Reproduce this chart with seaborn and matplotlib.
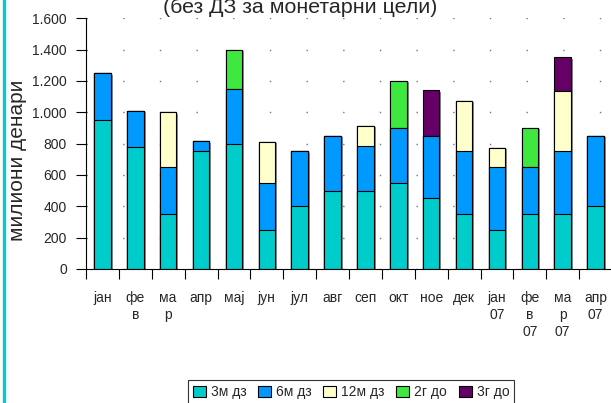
import pandas as pd
import matplotlib
matplotlib.use("Agg")
import matplotlib.pyplot as plt
import matplotlib.patheffects as pe
from matplotlib.patches import Patch
from matplotlib.lines import Line2D
from matplotlib.ticker import FuncFormatter, FixedLocator
import seaborn as sns

# месеци (категории на x-оската)
months = ["јан", "фе\nв", "ма\nр", "апр", "мај", "јун", "јул", "авг", "сеп",
          "окт", "ное", "дек", "јан\n07", "фе\nв\n07", "ма\nр\n07", "апр\n07"]

# вредности по рочност (милиони денари)
m3_dz = [950, 780, 350, 750, 800, 250, 400, 500, 500, 550, 450, 350, 250, 350, 350, 400]
m6_dz = [300, 230, 300, 65, 350, 300, 350, 350, 285, 350, 400, 400, 400, 300, 400, 450]
m12_dz = [0, 0, 350, 0, 0, 260, 0, 0, 130, 0, 0, 325, 125, 0, 385, 0]
g2_do = [0, 0, 0, 0, 250, 0, 0, 0, 0, 300, 0, 0, 0, 250, 0, 0]
g3_do = [0, 0, 0, 0, 0, 0, 0, 0, 0, 0, 290, 0, 0, 0, 215, 0]

series = ["3м дз", "6м дз", "12м дз", "2г до", "3г до"]
colors = ["#00CCCC", "#0099FF", "#FFFFCC", "#3EE83E", "#660066"]

df = pd.DataFrame({"month": months, "3м дз": m3_dz, "6м дз": m6_dz,
                   "12м дз": m12_dz, "2г до": g2_do, "3г до": g3_do})
# cumulative sums for stacking
cum = df[series].cumsum(axis=1)
cum["month"] = df["month"]

sns.set_theme(style="white")
plt.rcParams["font.family"] = ["Liberation Sans", "DejaVu Sans"]

fig = plt.figure(figsize=(6.11, 4.03), dpi=100)
ax = fig.add_axes([86 / 611, 1 - 269 / 403, 526 / 611, (269 - 18.3) / 403])

shadow = [pe.SimplePatchShadow(offset=(1.5, -1), shadow_rgbFace="#888888", alpha=1), pe.Normal()]

# draw tallest cumulative layer first, then cover with lower ones
for name, col in reversed(list(zip(series, colors))):
    sns.barplot(data=cum, x="month", y=name, order=months, color=col,
                width=0.5, edgecolor="black", linewidth=0.8, saturation=1, ax=ax)

for p in ax.patches:
    p.set_path_effects(shadow)

ax.set_ylim(0, 1600)
ax.set_xlim(-0.5, len(months) - 0.5)
ax.set_yticks(range(0, 1601, 200))
ax.yaxis.set_major_formatter(FuncFormatter(lambda v, _: f"{int(v):,}".replace(",", ".")))
ax.tick_params(axis="y", length=7.2, width=0.8, color="black", labelsize=10, pad=6.5, left=True)
ax.tick_params(axis="x", which="major", length=0, labelsize=10, pad=16)
ax.xaxis.set_minor_locator(FixedLocator([i - 0.5 for i in range(len(months) + 1)]))
ax.tick_params(axis="x", which="minor", length=7.5, width=0.8, color="black", bottom=True)
for lbl in ax.get_xticklabels():
    lbl.set_linespacing(1.25)
    lbl.set_verticalalignment("top")

ax.set_xlabel("")
ax.set_ylabel("")
sns.despine(ax=ax)
for s in ["left", "bottom"]:
    ax.spines[s].set_color("black")
    ax.spines[s].set_linewidth(0.8)

ax.set_axisbelow(True)
ax.yaxis.grid(True, linestyle=(0, (1, 25.4)), color="#777777", linewidth=1.0)
ax.xaxis.grid(False)

fig.text(18 / 611, 1 - 160 / 403, "милиони денари", rotation=90, fontsize=15,
         ha="center", va="center")
fig.text(300 / 611, 1 - 13 / 403, "(без ДЗ за монетарни цели)", fontsize=15.4,
         ha="center", va="baseline")

fig.add_artist(Line2D([3.5 / 611, 3.5 / 611], [0, 1], color="#00CCCC", linewidth=2.4,
                      transform=fig.transFigure))

handles = [Patch(facecolor=c, edgecolor="black", linewidth=0.8) for c in colors]
leg = fig.legend(handles, series, loc="upper center", bbox_to_anchor=(351 / 611, 1 - 380 / 403),
                 ncol=5, fontsize=10, frameon=True, fancybox=False, handlelength=0.93,
                 handleheight=0.85, handletextpad=0.36, columnspacing=0.84, borderpad=0.35,
                 borderaxespad=0)
leg.get_frame().set_edgecolor("black")
leg.get_frame().set_linewidth(0.8)

fig.savefig("out.png", dpi=100)
